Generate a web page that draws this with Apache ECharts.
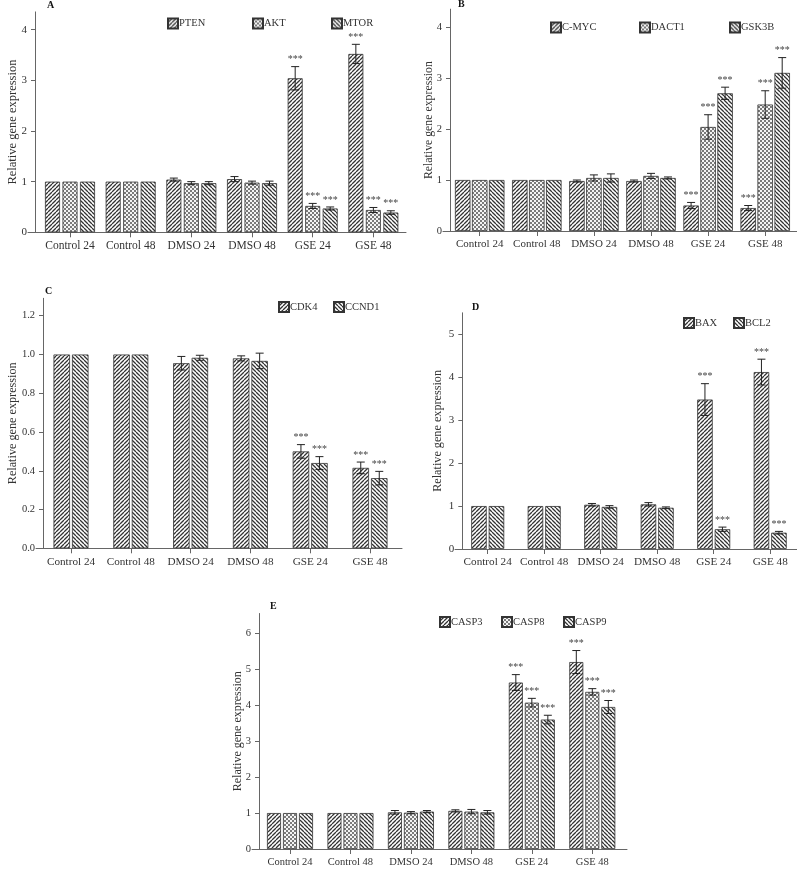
<!DOCTYPE html>
<html><head><meta charset="utf-8">
<script src="https://cdn.jsdelivr.net/npm/echarts@6/dist/echarts.min.js"></script>
<style>html,body{margin:0;padding:0;background:#fff}#c{width:797px;height:874px}</style>
</head><body><div id="c"></div>
<script>
// ---------- data ----------
const categories = ['Control 24', 'Control 48', 'DMSO 24', 'DMSO 48', 'GSE 24', 'GSE 48'];
const sigFlags = [0, 0, 0, 0, 1, 1];

// Panel A
const ptenVals = [1, 1, 1.04, 1.05, 3.04, 3.52];
const ptenErr  = [0, 0, 0.03, 0.05, 0.23, 0.19];
const aktVals  = [1, 1, 0.97, 0.98, 0.52, 0.44];
const aktErr   = [0, 0, 0.03, 0.03, 0.05, 0.05];
const mtorVals = [1, 1, 0.97, 0.97, 0.47, 0.39];
const mtorErr  = [0, 0, 0.03, 0.04, 0.03, 0.035];
// Panel B
const cmycVals  = [1, 1, 0.98, 0.98, 0.50, 0.45];
const cmycErr   = [0, 0, 0.02, 0.02, 0.06, 0.05];
const dact1Vals = [1, 1, 1.04, 1.08, 2.04, 2.48];
const dact1Err  = [0, 0, 0.06, 0.05, 0.24, 0.27];
const gsk3bVals = [1, 1, 1.04, 1.04, 2.70, 3.10];
const gsk3bErr  = [0, 0, 0.08, 0.02, 0.12, 0.30];
// Panel C
const cdk4Vals  = [1, 1, 0.955, 0.98, 0.50, 0.415];
const cdk4Err   = [0, 0, 0.035, 0.013, 0.035, 0.03];
const ccnd1Vals = [1, 1, 0.983, 0.967, 0.44, 0.362];
const ccnd1Err  = [0, 0, 0.013, 0.04, 0.033, 0.035];
// Panel D
const baxVals  = [1, 1, 1.03, 1.04, 3.48, 4.12];
const baxErr   = [0, 0, 0.03, 0.04, 0.37, 0.30];
const bcl2Vals = [1, 1, 0.98, 0.96, 0.46, 0.38];
const bcl2Err  = [0, 0, 0.03, 0.02, 0.05, 0.03];
// Panel E
const casp3Vals = [1, 1, 1.02, 1.06, 4.63, 5.20];
const casp3Err  = [0, 0, 0.05, 0.03, 0.22, 0.32];
const casp8Vals = [1, 1, 1.01, 1.04, 4.07, 4.37];
const casp8Err  = [0, 0, 0.03, 0.06, 0.12, 0.09];
const casp9Vals = [1, 1, 1.04, 1.02, 3.60, 3.95];
const casp9Err  = [0, 0, 0.03, 0.05, 0.12, 0.18];

// tick values and labels
const ticksA = [0, 1, 2, 3, 4];
const ticksB = [0, 1, 2, 3, 4];
const ticksC = [0, 0.2, 0.4, 0.6, 0.8, 1.0, 1.2];
const tickLabelsC = ['0.0', '0.2', '0.4', '0.6', '0.8', '1.0', '1.2'];
const ticksD = [0, 1, 2, 3, 4, 5];
const ticksE = [0, 1, 2, 3, 4, 5, 6];
const yTitle = 'Relative gene expression';

// ---------- styles ----------
const FONT = 'Liberation Serif';
function stripe(dir) {
  const s = 4, c = document.createElement('canvas');
  c.width = s; c.height = s;
  const g = c.getContext('2d');
  g.fillStyle = '#ffffff'; g.fillRect(0, 0, s, s);
  g.strokeStyle = '#333333'; g.lineWidth = 1.3;
  g.beginPath();
  for (let k = -1; k <= 1; k++) {
    if (dir > 0) { g.moveTo(k * s, s); g.lineTo(k * s + s, 0); }
    else { g.moveTo(k * s, 0); g.lineTo(k * s + s, s); }
  }
  g.stroke();
  return c;
}
function checker() {
  const s = 4, c = document.createElement('canvas');
  c.width = s; c.height = s;
  const g = c.getContext('2d');
  g.fillStyle = '#f4f4f4'; g.fillRect(0, 0, s, s);
  g.fillStyle = '#7a7a7a';
  g.fillRect(0, 0, 2, 2); g.fillRect(2, 2, 2, 2);
  return c;
}
const patFwd = stripe(1), patChk = checker(), patBack = stripe(-1);

const panels = [
  { letter: 'A', genes: [['PTEN', ptenVals, ptenErr], ['AKT', aktVals, aktErr], ['MTOR', mtorVals, mtorErr]],
    ticks: ticksA, labels: null, max: 4.35,
    L: { yx: 35, first: 70, sp: 60.67, zero: 232.3, top: 11.9, ls: 28, le: 406, bw: 15, gap: 2.5,
         tl: 47, tt: 0.5, ng: 16, ts: 12.5, yl: 11, xl: 11.5, lx: [167, 252, 331], ly: 17.5 } },
  { letter: 'B', genes: [['C-MYC', cmycVals, cmycErr], ['DACT1', dact1Vals, dact1Err], ['GSK3B', gsk3bVals, gsk3bErr]],
    ticks: ticksB, labels: null, max: 4.35,
    L: { yx: 450, first: 479.7, sp: 57.1, zero: 231, top: 9.15, ls: 443, le: 797, bw: 15.5, gap: 1.5,
         tl: 458, tt: -1, ng: 15.5, ts: 11.8, yl: 10.5, xl: 11, lx: [550, 639, 729], ly: 21.5 } },
  { letter: 'C', genes: [['CDK4', cdk4Vals, cdk4Err], ['CCND1', ccnd1Vals, ccnd1Err]],
    ticks: ticksC, labels: tickLabelsC, max: 1.29,
    L: { yx: 43, first: 71, sp: 59.8, zero: 548.3, top: 298.3, ls: 36, le: 402, bw: 16.5, gap: 2,
         tl: 45, tt: 286.5, ng: 24.5, ts: 12.2, yl: 10.5, xl: 11.2, lx: [278, 333], ly: 301 } },
  { letter: 'D', genes: [['BAX', baxVals, baxErr], ['BCL2', bcl2Vals, bcl2Err]],
    ticks: ticksD, labels: null, max: 5.5,
    L: { yx: 462.3, first: 487.7, sp: 56.5, zero: 549, top: 312.8, ls: 455, le: 797, bw: 15.5, gap: 2,
         tl: 472, tt: 302.5, ng: 18, ts: 12.2, yl: 11, xl: 11.2, lx: [683, 733], ly: 317 } },
  { letter: 'E', genes: [['CASP3', casp3Vals, casp3Err], ['CASP8', casp8Vals, casp8Err], ['CASP9', casp9Vals, casp9Err]],
    ticks: ticksE, labels: null, max: 6.55,
    L: { yx: 259, first: 290, sp: 60.46, zero: 849, top: 613.5, ls: 252, le: 627, bw: 14, gap: 2,
         tl: 270, tt: 601.5, ng: 15.5, ts: 12, yl: 10.5, xl: 10.5, lx: [439, 501, 563], ly: 616 } }
];

const AX = '#666';
const TXT = '#333';
const grid = [], xAxis = [], yAxis = [], series = [], legend = [], title = [];
const NP = panels.length;

panels.forEach((p, pi) => {
  const L = p.L;
  const left = L.first - L.sp / 2;
  const width = L.sp * categories.length;
  const height = L.zero - L.top;
  grid.push({ left: left, top: L.top, width: width, height: height, containLabel: false, outerBoundsMode: 'none' });
  xAxis.push({
    type: 'category', gridIndex: pi, data: categories, boundaryGap: true,
    axisLine: { show: false },
    axisTick: { show: true, alignWithLabel: true, length: 5, lineStyle: { color: AX, width: 1 } },
    axisLabel: { interval: 0, margin: 8, fontFamily: FONT, fontSize: L.xl, color: TXT },
    splitLine: { show: false }
  });
  const tickStep = p.ticks[1] - p.ticks[0];
  yAxis.push({
    type: 'value', gridIndex: pi, min: 0, max: p.max, interval: tickStep,
    position: 'left', offset: left - L.yx,
    axisLine: { show: true, onZero: false, lineStyle: { color: AX, width: 1 } },
    axisTick: { show: true, length: 4, customValues: p.ticks, lineStyle: { color: AX, width: 1 } },
    axisLabel: {
      customValues: p.ticks, margin: 8, fontFamily: FONT, fontSize: L.yl, color: TXT,
      showMaxLabel: true,
      formatter: function (v) {
        const idx = p.ticks.findIndex(t => Math.abs(t - v) < 1e-6);
        if (idx < 0) return '';
        return p.labels ? p.labels[idx] : String(p.ticks[idx]);
      }
    },
    splitLine: { show: false },
    name: yTitle, nameLocation: 'middle', nameGap: L.ng, nameMoveOverlap: false,
    nameTextStyle: { fontFamily: FONT, fontSize: L.ts, color: TXT }
  });

  const n = p.genes.length;
  p.genes.forEach((gRow, gi) => {
    const [name, vals, errs] = gRow;
    let pat;
    if (gi === 0) pat = patFwd;
    else if (gi === n - 1) pat = patBack;
    else pat = patChk;
    series.push({
      type: 'bar', name: name, xAxisIndex: pi, yAxisIndex: pi, data: vals,
      barWidth: L.bw, barGap: (L.gap / L.bw * 100) + '%',
      itemStyle: { color: { image: pat, repeat: 'repeat' }, borderColor: '#333', borderWidth: 0.8 },
      emphasis: { disabled: true }, silent: true, animation: false
    });
    const off = (gi - (n - 1) / 2) * (L.bw + L.gap);
    series.push({
      type: 'custom', name: name + ' err', xAxisIndex: pi, yAxisIndex: pi, z: 5, silent: true, animation: false,
      data: vals.map((v, i) => [i, v, errs[i], sigFlags[i]]),
      renderItem: function (params, api) {
        const ci = api.value(0), v = api.value(1), e = api.value(2), s = api.value(3);
        const topP = api.coord([ci, v + e]);
        const botP = api.coord([ci, v - e]);
        const cx = topP[0] + off;
        const children = [];
        const ls = { stroke: '#222', lineWidth: 1 };
        if (e > 0) {
          children.push({ type: 'line', shape: { x1: cx, y1: topP[1], x2: cx, y2: botP[1] }, style: ls });
          children.push({ type: 'line', shape: { x1: cx - 4, y1: topP[1], x2: cx + 4, y2: topP[1] }, style: ls });
          children.push({ type: 'line', shape: { x1: cx - 4, y1: botP[1], x2: cx + 4, y2: botP[1] }, style: ls });
        }
        if (s) {
          children.push({ type: 'text', style: { text: '***', x: cx, y: topP[1] - 2, align: 'center', verticalAlign: 'bottom',
            fontFamily: FONT, fontSize: 10, fill: '#444' } });
        }
        return { type: 'group', children: children };
      }
    });
    legend.push({
      left: L.lx[gi], top: L.ly, padding: 0, itemWidth: 10, itemHeight: 10, icon: 'rect',
      data: [name], selectedMode: false,
      textStyle: { fontFamily: FONT, fontSize: 10.5, color: TXT, padding: [0, 0, 0, -4] }
    });
  });

  title.push({ text: p.letter, left: L.tl, top: L.tt, padding: 0,
    textStyle: { fontFamily: FONT, fontWeight: 'bold', fontSize: 10, color: '#111' } });
});

// baseline axis lines spanning the full panel width
panels.forEach((p, pi) => {
  const L = p.L;
  const gi = NP + pi;
  grid.push({ left: L.ls, top: L.top, width: L.le - L.ls, height: L.zero - L.top, containLabel: false, outerBoundsMode: 'none' });
  xAxis.push({ type: 'value', gridIndex: gi, min: 0, max: 1, position: 'bottom',
    axisLine: { show: true, onZero: false, lineStyle: { color: AX, width: 1 } },
    axisTick: { show: false }, axisLabel: { show: false }, splitLine: { show: false } });
  yAxis.push({ type: 'value', gridIndex: gi, min: 0, max: 1, show: false });
});

const chart = echarts.init(document.getElementById('c'), null, { renderer: 'canvas' });
chart.setOption({
  backgroundColor: '#ffffff',
  animation: false,
  title: title, legend: legend, grid: grid, xAxis: xAxis, yAxis: yAxis, series: series
});
</script></body></html>
